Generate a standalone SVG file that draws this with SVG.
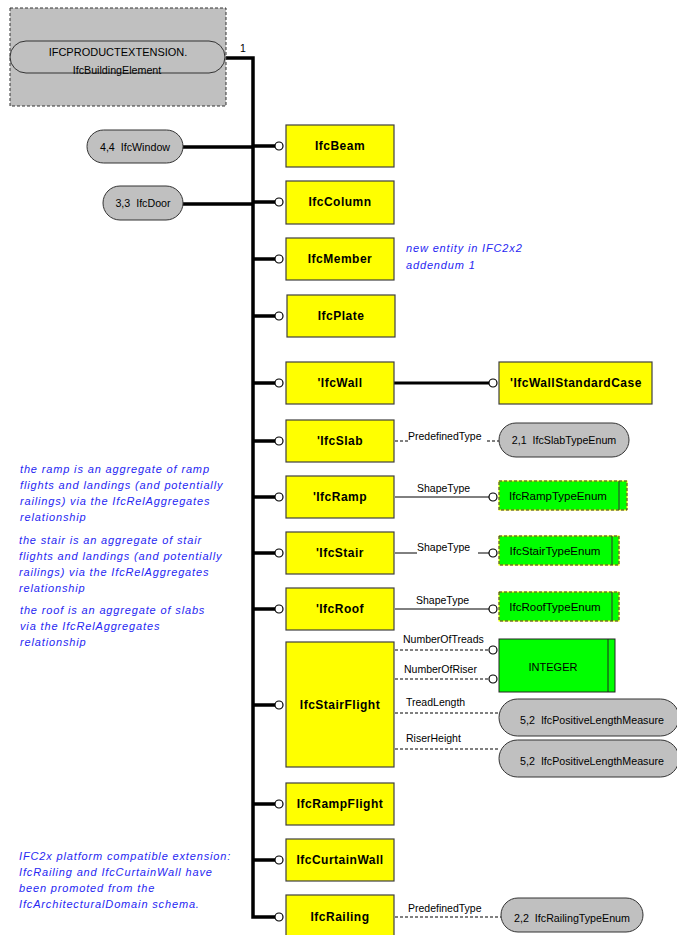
<svg xmlns="http://www.w3.org/2000/svg" width="677" height="935" viewBox="0 0 677 935">
<style>
.ent{fill:#ffff00;stroke:#404040;stroke-width:1.2}
.et{font-family:"Liberation Sans",Arial,sans-serif;font-weight:bold;font-size:12px;letter-spacing:0.5px;text-anchor:middle;fill:#000}
.ov{fill:#c0c0c0;stroke:#333;stroke-width:1}
.ot{font-family:"Liberation Sans",Arial,sans-serif;font-size:10.7px;text-anchor:middle;fill:#000;white-space:pre}
.lb{font-family:"Liberation Sans",Arial,sans-serif;font-size:10.5px;fill:#000}
.gr{fill:#00ff00;stroke:#ffff00;stroke-width:1}
.grd{fill:none;stroke:#333;stroke-width:1;stroke-dasharray:3,2}
.gt{font-family:"Liberation Sans",Arial,sans-serif;font-size:11.5px;text-anchor:middle;fill:#000}
.note{font-family:"Liberation Sans",Arial,sans-serif;font-style:italic;font-size:11px;letter-spacing:0.85px;fill:#2626f2}
.thick{fill:none;stroke:#000;stroke-width:3.5}
.thin{fill:none;stroke:#000;stroke-width:1}
.dash{fill:none;stroke:#000;stroke-width:1;stroke-dasharray:3,2}
.ring{fill:#fff;stroke:#000;stroke-width:1.2}
</style>

<g id="connectors">
  <path class="thick" d="M226 58 H253 V917 H275"/>
  <path class="thick" d="M183 147 H253"/>
  <path class="thick" d="M183 204 H253"/>
  <path class="thick" d="M253 146 H275 M253 202 H275 M253 259 H275 M253 316 H275 M253 383 H275 M253 441 H275 M253 497 H275 M253 553 H275 M253 609 H275 M253 705 H275 M253 804 H275 M253 860 H275"/>
  <g>
    <circle class="ring" cx="279" cy="146" r="4"/>
    <circle class="ring" cx="279" cy="202" r="4"/>
    <circle class="ring" cx="279" cy="259" r="4"/>
    <circle class="ring" cx="279" cy="316" r="4"/>
    <circle class="ring" cx="279" cy="383" r="4"/>
    <circle class="ring" cx="279" cy="441" r="4"/>
    <circle class="ring" cx="279" cy="497" r="4"/>
    <circle class="ring" cx="279" cy="553" r="4"/>
    <circle class="ring" cx="279" cy="609" r="4"/>
    <circle class="ring" cx="279" cy="705" r="4"/>
    <circle class="ring" cx="279" cy="804" r="4"/>
    <circle class="ring" cx="279" cy="860" r="4"/>
    <circle class="ring" cx="279" cy="917" r="4"/>
  </g>
  <text class="lb" x="240" y="52">1</text>
  <path class="thick" d="M394 383 H489" style="stroke-width:3"/>
  <circle class="ring" cx="493" cy="383" r="4"/>
  <path class="dash" d="M395 441 H408 M487 441 H499"/>
  <text class="lb" x="408" y="440">PredefinedType</text>
  <path class="thin" d="M395 497 H489"/>
  <circle class="ring" cx="493" cy="497" r="4"/>
  <text class="lb" x="417" y="492">ShapeType</text>
  <path class="thin" d="M395 553 H417 M478 553 H489"/>
  <circle class="ring" cx="493" cy="553" r="4"/>
  <text class="lb" x="417" y="551">ShapeType</text>
  <path class="thin" d="M395 609 H489"/>
  <circle class="ring" cx="493" cy="609" r="4"/>
  <text class="lb" x="416" y="604">ShapeType</text>
  <path class="dash" d="M395 650 H489 M395 679 H489 M395 713 H499 M395 749 H499"/>
  <circle class="ring" cx="493" cy="650" r="4"/>
  <circle class="ring" cx="493" cy="679" r="4"/>
  <text class="lb" x="403" y="643">NumberOfTreads</text>
  <text class="lb" x="404" y="673">NumberOfRiser</text>
  <text class="lb" x="406" y="706">TreadLength</text>
  <text class="lb" x="406" y="742">RiserHeight</text>
  <path class="dash" d="M395 917 H501"/>
  <text class="lb" x="408" y="912">PredefinedType</text>
</g>

<g id="IfcBuildingElement">
  <rect x="10" y="8" width="216" height="98" fill="#c0c0c0" stroke="#333" stroke-width="1" stroke-dasharray="3,2"/>
  <rect class="ov" x="10" y="41" width="215" height="32" rx="16" ry="16"/>
  <text class="ot" x="118" y="56" style="font-size:11px">IFCPRODUCTEXTENSION.</text>
  <text class="ot" x="117" y="74">IfcBuildingElement</text>
</g>

<g id="IfcWindow">
  <rect class="ov" x="87" y="130" width="96" height="33" rx="16.5"/>
  <text class="ot" x="135" y="151" xml:space="preserve">4,4  IfcWindow</text>
</g>
<g id="IfcDoor">
  <rect class="ov" x="103" y="186" width="80" height="34" rx="17"/>
  <text class="ot" x="143" y="207" xml:space="preserve">3,3  IfcDoor</text>
</g>

<g id="IfcBeam"><rect class="ent" x="286" y="125" width="108" height="42"/><text class="et" x="340" y="150">IfcBeam</text></g>
<g id="IfcColumn"><rect class="ent" x="286" y="181" width="108" height="43"/><text class="et" x="340" y="206">IfcColumn</text></g>
<g id="IfcMember"><rect class="ent" x="286" y="238" width="108" height="42"/><text class="et" x="340" y="263">IfcMember</text></g>
<g id="IfcPlate"><rect class="ent" x="287" y="295" width="108" height="42"/><text class="et" x="341" y="320">IfcPlate</text></g>
<g id="IfcWall"><rect class="ent" x="286" y="362" width="108" height="42"/><text class="et" x="340" y="387">'IfcWall</text></g>
<g id="IfcWallStandardCase"><rect class="ent" x="499" y="362" width="153" height="42"/><text class="et" x="576" y="387">'IfcWallStandardCase</text></g>
<g id="IfcSlab"><rect class="ent" x="286" y="420" width="108" height="42"/><text class="et" x="340" y="445">'IfcSlab</text></g>
<g id="IfcSlabTypeEnum"><rect class="ov" x="499" y="423" width="130" height="34" rx="17"/><text class="ot" x="564" y="444" xml:space="preserve">2,1  IfcSlabTypeEnum</text></g>
<g id="IfcRamp"><rect class="ent" x="286" y="476" width="108" height="42"/><text class="et" x="340" y="501">'IfcRamp</text></g>
<g id="IfcRampTypeEnum"><rect class="gr" x="499" y="481" width="128" height="29"/><rect class="grd" x="499" y="481" width="128" height="29"/><line x1="619" y1="481" x2="619" y2="510" stroke="#333" stroke-width="1"/><text class="gt" x="558" y="500">IfcRampTypeEnum</text></g>
<g id="IfcStair"><rect class="ent" x="286" y="532" width="108" height="42"/><text class="et" x="340" y="557">'IfcStair</text></g>
<g id="IfcStairTypeEnum"><rect class="gr" x="499" y="536" width="120" height="29"/><rect class="grd" x="499" y="536" width="120" height="29"/><line x1="612" y1="536" x2="612" y2="565" stroke="#333" stroke-width="1"/><text class="gt" x="555" y="555">IfcStairTypeEnum</text></g>
<g id="IfcRoof"><rect class="ent" x="286" y="588" width="108" height="42"/><text class="et" x="340" y="613">'IfcRoof</text></g>
<g id="IfcRoofTypeEnum"><rect class="gr" x="499" y="592" width="120" height="29"/><rect class="grd" x="499" y="592" width="120" height="29"/><line x1="612" y1="592" x2="612" y2="621" stroke="#333" stroke-width="1"/><text class="gt" x="555" y="611">IfcRoofTypeEnum</text></g>
<g id="IfcStairFlight"><rect class="ent" x="286" y="642" width="108" height="125"/><text class="et" x="340" y="709">IfcStairFlight</text></g>
<g id="INTEGER"><rect x="499" y="639" width="116" height="53" fill="#00ff00" stroke="#222" stroke-width="1"/><line x1="608" y1="639" x2="608" y2="692" stroke="#222" stroke-width="1"/><text class="gt" x="553" y="671" style="font-size:11px">INTEGER</text></g>
<g id="IfcPositiveLengthMeasure1"><rect class="ov" x="499" y="699" width="180" height="37" rx="18.5"/><text class="ot" x="592" y="724" xml:space="preserve">5,2  IfcPositiveLengthMeasure</text></g>
<g id="IfcPositiveLengthMeasure2"><rect class="ov" x="499" y="740" width="180" height="37" rx="18.5"/><text class="ot" x="592" y="765" xml:space="preserve">5,2  IfcPositiveLengthMeasure</text></g>
<g id="IfcRampFlight"><rect class="ent" x="286" y="783" width="108" height="42"/><text class="et" x="340" y="808">IfcRampFlight</text></g>
<g id="IfcCurtainWall"><rect class="ent" x="286" y="839" width="108" height="42"/><text class="et" x="340" y="864">IfcCurtainWall</text></g>
<g id="IfcRailing"><rect class="ent" x="286" y="895" width="108" height="45"/><text class="et" x="340" y="921">IfcRailing</text></g>
<g id="IfcRailingTypeEnum"><rect class="ov" x="501" y="898" width="142" height="34" rx="17"/><text class="ot" x="572" y="922" xml:space="preserve">2,2  IfcRailingTypeEnum</text></g>

<g id="notes">
  <text class="note" x="406" y="252">new entity in IFC2x2</text>
  <text class="note" x="406" y="269">addendum 1</text>
  <text class="note" x="20" y="473">the ramp is an aggregate of ramp</text>
  <text class="note" x="20" y="489">flights and landings (and potentially</text>
  <text class="note" x="20" y="505">railings) via the IfcRelAggregates</text>
  <text class="note" x="20" y="521">relationship</text>
  <text class="note" x="19" y="544">the stair is an aggregate of stair</text>
  <text class="note" x="19" y="560">flights and landings (and potentially</text>
  <text class="note" x="19" y="576">railings) via the IfcRelAggregates</text>
  <text class="note" x="19" y="592">relationship</text>
  <text class="note" x="20" y="614">the roof is an aggregate of slabs</text>
  <text class="note" x="20" y="630">via the IfcRelAggregates</text>
  <text class="note" x="20" y="646">relationship</text>
  <text class="note" x="19" y="860">IFC2x platform compatible extension:</text>
  <text class="note" x="19" y="876">IfcRailing and IfcCurtainWall have</text>
  <text class="note" x="19" y="892">been promoted from the</text>
  <text class="note" x="19" y="908">IfcArchitecturalDomain schema.</text>
</g>
</svg>
